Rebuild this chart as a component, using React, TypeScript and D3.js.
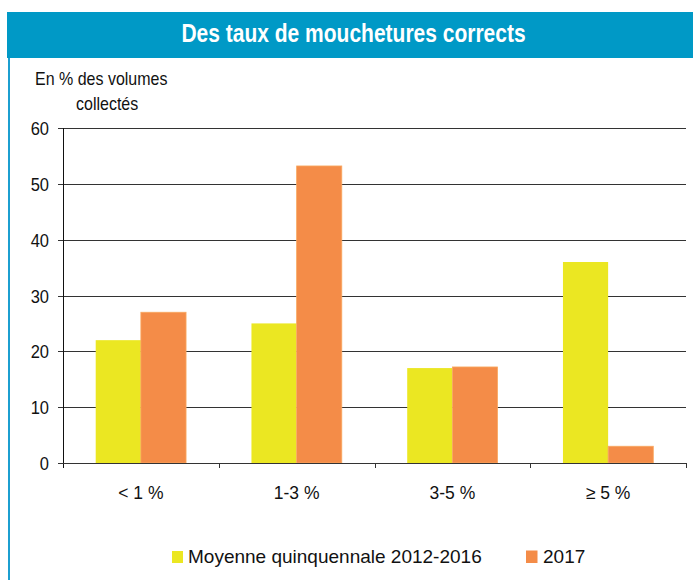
import React from "react";
import * as d3 from "d3";

const categories = ["< 1 %", "1-3 %", "3-5 %", "≥ 5 %"];
const seriesNames = ["Moyenne quinquennale 2012-2016", "2017"];
const moyenne = [22, 25, 17, 36];
const y2017 = [27, 53.2, 17.2, 3];
const yTicks = [0, 10, 20, 30, 40, 50, 60];
const colors = ["#EBE722", "#F48C48"];

function SText({ x, y, sy = 1, children, ...rest }: any) {
  return (
    <text transform={`translate(${x},${y}) scale(1,${sy})`} {...rest}>
      {children}
    </text>
  );
}

export default function App() {
  const W = 693, H = 580;
  const left = 63, right = 686, top = 128, bottom = 463;
  const bandStep = (right - left) / categories.length;
  const xg = d3.scaleBand<string>().domain(categories).range([left, right]).padding(0);
  const y = d3.scaleLinear().domain([0, 60]).range([bottom, top]);
  const groupW = bandStep * 0.58;
  const sub = d3.scaleBand<number>().domain([0, 1]).range([0, groupW]).padding(0);
  const series = [moyenne, y2017];
  const font = "'Liberation Sans', Arial, sans-serif";
  return (
    <svg width={W} height={H} style={{ position: "absolute", left: 0, top: 0 }} fontFamily={font}>
      <rect x={0} y={0} width={W} height={H} fill="#fff" />
      <rect x={7} y={12} width={686} height={46} fill="#0099C6" />
      <rect x={8} y={58} width={2} height={522} fill="#1C9FD0" />
      <SText x={353.5} y={41.7} sy={1.2} textAnchor="middle" fill="#fff" fontWeight="bold" fontSize={21}>
        Des taux de mouchetures corrects
      </SText>
      <SText x={35} y={85} sy={1.15} fontSize={16} fill="#111">En % des volumes</SText>
      <SText x={76} y={109.5} sy={1.15} fontSize={16} fill="#111">collectés</SText>
      {yTicks.map((t) => (
        <g key={t}>
          <line x1={left - 5} x2={right} y1={Math.round(y(t)) + 0.5} y2={Math.round(y(t)) + 0.5} stroke="#333" strokeWidth={1} />
          <SText x={49} y={y(t) + 7} sy={1.1} textAnchor="end" fontSize={16.5} fill="#111">{t}</SText>
        </g>
      ))}
      <line x1={left + 0.5} x2={left + 0.5} y1={top} y2={bottom + 5} stroke="#111" />
      {categories.map((c) => (
        <line key={c} x1={Math.round(xg(c)! + bandStep) + 0.5} x2={Math.round(xg(c)! + bandStep) + 0.5} y1={bottom} y2={bottom + 5} stroke="#333" />
      ))}
      {categories.map((c, i) => {
        const gx = xg(c)! + (bandStep - groupW) / 2;
        return (
          <g key={c}>
            {series.map((s, k) => (
              <rect key={k} x={gx + sub(k)!} y={y(s[i])} width={sub.bandwidth()} height={y(0) - y(s[i])} fill={colors[k]} stroke={k === 1 ? "#F9A860" : "none"} strokeWidth={0.8} />
            ))}
            <SText x={xg(c)! + bandStep / 2} y={499} sy={1.05} textAnchor="middle" fontSize={17.5} fill="#111">{c}</SText>
          </g>
        );
      })}
      <line x1={left} x2={right} y1={bottom + 0.5} y2={bottom + 0.5} stroke="#333" />
      <rect x={172} y={551} width={11} height={12} fill={colors[0]} />
      <text x={188} y={563} fontSize={19} fill="#111">{seriesNames[0]}</text>
      <rect x={526} y={550.5} width={11.5} height={12.5} fill={colors[1]} />
      <text x={543} y={563} fontSize={19} fill="#111">{seriesNames[1]}</text>
    </svg>
  );
}
